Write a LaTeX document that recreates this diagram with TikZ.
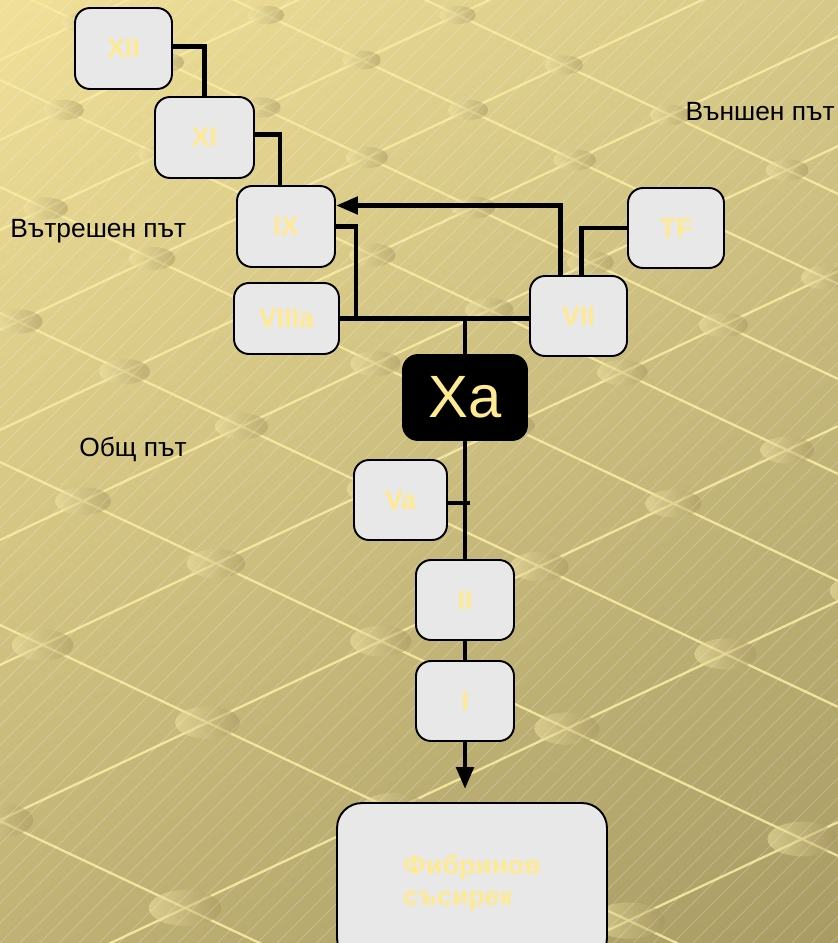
\documentclass[tikz,border=0pt]{standalone}
\usepackage{fontspec}
\setmainfont{Liberation Sans}
\newfontfamily\boxfont{Liberation Sans Bold}
\usetikzlibrary{arrows.meta,calc,patterns.meta,shadings}
\definecolor{txtyel}{RGB}{255,233,145}
\definecolor{boxfill}{RGB}{232,232,232}
\definecolor{bgUL}{RGB}{240,224,152}
\definecolor{bgUR}{RGB}{214,200,135}
\definecolor{bgLL}{RGB}{192,178,116}
\definecolor{bgLR}{RGB}{168,156,100}
\definecolor{latcol}{RGB}{248,234,162}
\definecolor{dotlight}{RGB}{245,232,165}
\definecolor{dotdark}{RGB}{165,150,95}
\begin{document}
\begin{tikzpicture}[x=0.02cm,y=-0.02cm,
  box/.style={draw=black, line width=1.1pt, fill=boxfill, rounded corners=0.3cm,
    text=txtyel, font=\boxfont\fontsize{15.3}{17}\selectfont, inner sep=0pt,
    minimum width=1.94cm, minimum height=1.62cm},
  conn/.style={line width=2.8pt, draw=black},
  lbl/.style={font=\fontsize{15}{18}\selectfont, text=black, inner sep=0pt},
  latline/.style={draw=latcol, line width=1.3pt, opacity=0.9},
  tip/.style={-{Triangle[length=0.44cm,width=0.34cm]}}]
\useasboundingbox (0,0) rectangle (838,943);
% background
\begin{scope}
\clip (0,0) rectangle (838,943);
\shade[upper left=bgUL, upper right=bgUR, lower left=bgLL, lower right=bgLR] (0,0) rectangle (838,943);
\foreach \c in {-200,-110,-15,80,187,313,462,625,821,1040,1290}{
  \draw[latline] (0,\c) -- (838,{393.9+\c});
}
\foreach \d in {60,140,230,330,430,540,665,820,995,1216,1450,1700}{
  \draw[latline] (0,\d) -- (838,{\d-393.9});
}
\foreach \c in {-200,-110,-15,80,187,313,462,625,821,1040,1290}{
  \foreach \d in {60,140,230,330,430,540,665,820,995,1216,1450,1700}{
    \pgfmathsetmacro\xx{(\d-\c)/0.94}
    \pgfmathsetmacro\yy{(\c+\d)/2}
    \pgfmathsetmacro\rx{0.36+0.0004*\yy}
    \pgfmathsetmacro\ry{0.5*\rx}
    \shade[left color=dotlight, right color=dotdark, opacity=0.5] (\xx,\yy) ellipse [x radius=\rx cm, y radius=\ry cm];
  }
}
\fill[pattern={Lines[angle=45,distance=0.28cm,line width=0.4pt]}, pattern color=white, opacity=0.25] (0,0) rectangle (838,943);
\end{scope}
% nodes
\node[box] (XII) at (123.5,48.5) {XII};
\node[box, minimum width=1.98cm] (XI) at (204.5,137.5) {XI};
\node[box, minimum width=1.96cm] (IX) at (286,226.5) {IX};
\node[box, minimum width=2.1cm, minimum height=1.42cm] (VIIIa) at (286.5,318.5) {VIIIa};
\node[box, minimum height=1.6cm] (VII) at (578.5,316) {VII};
\node[box, minimum width=1.92cm, minimum height=1.6cm] (TF) at (676,228) {TF};
\node[box, fill=black, font=\fontsize{34}{40}\selectfont, minimum width=2.48cm, minimum height=1.7cm] (Xa) at (465,397.5) {Xa};
\node[box, minimum width=1.86cm, minimum height=1.6cm] (Va) at (400.5,500) {Va};
\node[box, minimum width=1.96cm, minimum height=1.6cm] (II) at (465,600) {II};
\node[box, minimum width=1.96cm, minimum height=1.6cm] (I) at (465,701) {I};
\node[box, minimum width=5.4cm, minimum height=3.2cm, rounded corners=0.5cm, align=left,
  font=\boxfont\fontsize{15.2}{18.1}\selectfont] (Fib) at (472,883) {Фибринов\\съсирек};
% labels
\node[lbl, anchor=west] (lin) at (10,231) {Вътрешен път};
\node[lbl, anchor=east] (lex) at (835,112) {Външен път};
\node[lbl, anchor=west] (lcom) at (79,449) {Общ път};
% connectors
\coordinate (jn) at (356,318);
\draw[conn] ($(XII.east)+(0,-2)$) -| (XI.north);
\draw[conn] ($(XI.east)+(0,-3)$) -| ($(IX.north)+(-6,0)$);
\draw[conn] (IX.east) -| (jn);
\draw[conn] (VIIIa.east) -- (VIIIa.east -| VII.west);
\draw[conn] (Xa.north) -- (Xa.north |- VIIIa.east);
\draw[conn, tip] ($(VII.north)+(-18,0)$) |- ($(IX.east)+(0,-21)$);
\draw[conn] (TF.west) -| ($(VII.north)+(3,0)$);
\draw[conn] (Xa.south) -- (II.north);
\draw[conn, line width=2.3pt] ($(Va.east)+(0,3)$) -- ++(22,0);
\draw[conn] (II.south) -- (I.north);
\draw[conn, tip, shorten >=0.26cm] (I.south) -- (I.south |- Fib.north);
\end{tikzpicture}
\end{document}
